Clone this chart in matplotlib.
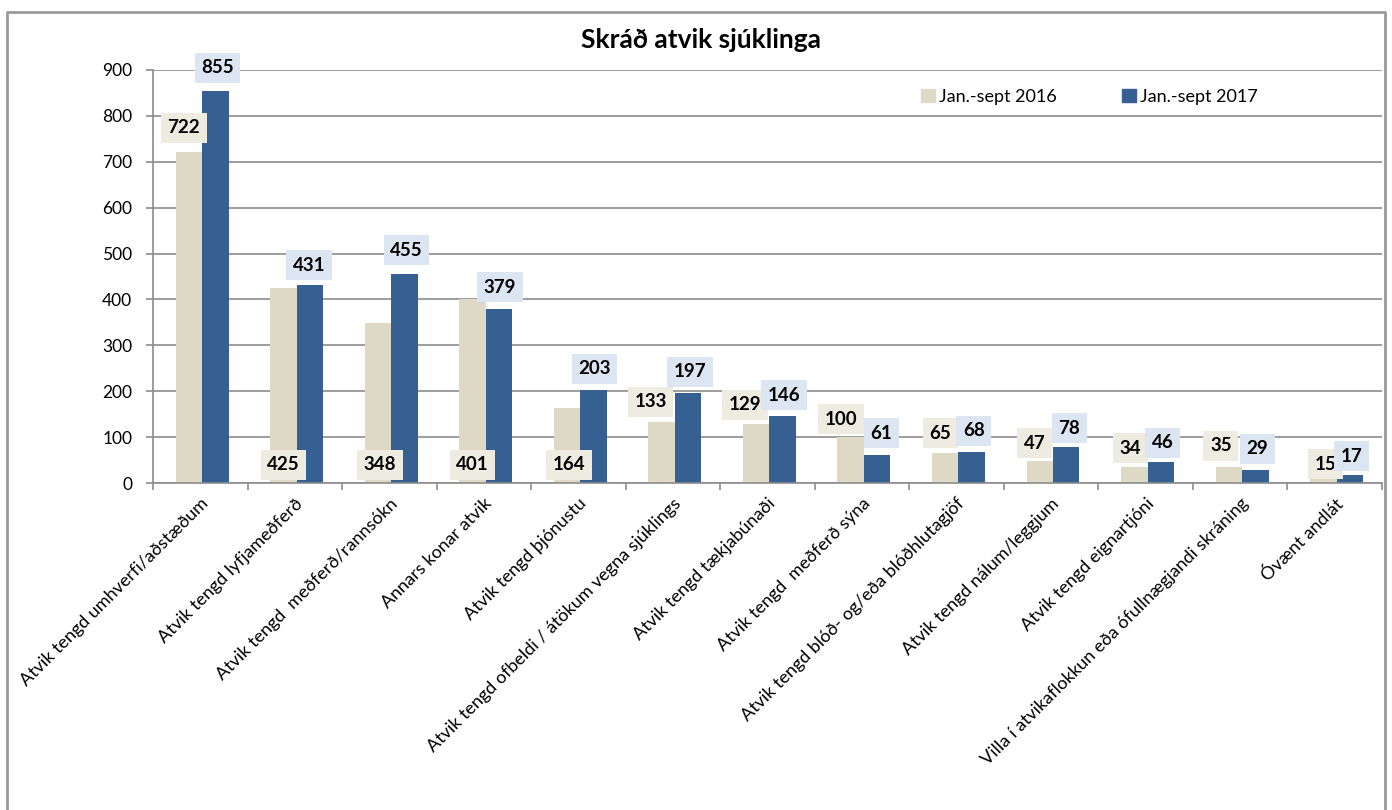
import matplotlib.pyplot as plt
from matplotlib.lines import Line2D
from matplotlib.patches import Patch
import numpy as np

plt.rcParams['font.family'] = ['Lato', 'DejaVu Sans']

categories = [
    'Atvik tengd umhverfi/aðstæðum',
    'Atvik tengd lyfjameðferð',
    'Atvik tengd  meðferð/rannsókn',
    'Annars konar atvik',
    'Atvik tengd þjónustu',
    'Atvik tengd ofbeldi / átökum vegna sjúklings',
    'Atvik tengd tækjabúnaði',
    'Atvik tengd  meðferð sýna',
    'Atvik tengd blóð- og/eða blóðhlutagjöf',
    'Atvik tengd nálum/leggjum',
    'Atvik tengd eignartjóni',
    'Villa í atvikaflokkun eða ófullnægjandi skráning',
    'Óvænt andlát',
]
values_2016 = [722, 425, 348, 401, 164, 133, 129, 100, 65, 47, 34, 35, 15]
values_2017 = [855, 431, 455, 379, 203, 197, 146, 61, 68, 78, 46, 29, 17]
series_names = ['Jan.-sept 2016', 'Jan.-sept 2017']
title = 'Skráð atvik sjúklinga'

c2016 = '#ddd9c4'
c2017 = '#376092'
box2016 = '#eeece1'
box2017 = '#dce6f2'

# label offsets in pixels: (anchor, dx, dy); 'top' = bar top, 'base' = axis
offs_2016 = [('top', -5, 24), ('base', 0, 18), ('base', 2, 18), ('base', 0, 18),
             ('base', 2, 18), ('top', -11, 20), ('top', -11, 19), ('top', -10, 18),
             ('top', -5, 20), ('top', -5, 18), ('top', -4, 19), ('top', -8, 21),
             ('top', 2, 12)]
offs_2017 = [('top', 2, 23), ('top', -1, 20), ('top', 2, 24), ('top', 1, 22),
             ('top', 1, 21), ('top', 2, 21), ('top', 1, 21), ('top', 4, 22),
             ('top', 2, 21), ('top', 3, 19), ('top', 2, 19), ('top', 2, 21),
             ('top', 2, 19)]

W, H = 1392, 810
fig = plt.figure(figsize=(W / 100, H / 100), dpi=100)
ax = fig.add_axes([153 / W, 1 - 483 / H, (1382 - 153) / W, (483 - 70) / H])

x = np.arange(len(categories))
bw = 0.28
shift = 0.02
ax.bar(x - bw / 2 + shift, values_2016, bw, color=c2016, zorder=2)
ax.bar(x + bw / 2 + shift, values_2017, bw, color=c2017, zorder=2)

ax.set_xlim(-0.5, len(categories) - 0.5)
ax.set_ylim(0, 900)
ax.set_yticks(range(0, 901, 100))
ax.yaxis.grid(True, color='#8c8c8c', linewidth=1.2, zorder=0)
ax.set_axisbelow(True)

for s in ['top', 'right']:
    ax.spines[s].set_visible(False)
for s in ['left', 'bottom']:
    ax.spines[s].set_color('#8c8c8c')
    ax.spines[s].set_linewidth(1.2)

ax.tick_params(axis='y', length=5, width=1.2, color='#8c8c8c', pad=10, labelsize=12.5)
ax.set_xticks(np.arange(-0.5, len(categories), 1), minor=True)
ax.set_xticks(x)
ax.tick_params(axis='x', which='minor', length=5, width=1.2, color='#8c8c8c')
ax.tick_params(axis='x', which='major', length=0, pad=9)
ax.set_xticklabels(categories, rotation=45, ha='right', va='top',
                   rotation_mode='anchor', fontsize=13)

def put_labels(vals, offs, xpos, bg):
    for xi, v, (anc, dx, dy) in zip(xpos, vals, offs):
        base = v if anc == 'top' else 0
        ax.annotate(str(v), (xi, base), xytext=(dx, dy), textcoords='offset pixels',
                    ha='center', va='center', fontsize=13.5, fontweight='bold',
                    bbox=dict(boxstyle='square,pad=0.35', fc=bg, ec='none'), zorder=4)

put_labels(values_2016, offs_2016, x - bw / 2 + shift, box2016)
put_labels(values_2017, offs_2017, x + bw / 2 + shift, box2017)

fig.text(701 / W, 1 - 40 / H, title, ha='center', va='center',
         fontsize=19, fontweight='bold')

handles = [Patch(color=c2016), Patch(color=c2017)]
fig.legend(handles, series_names, loc='center left',
           bbox_to_anchor=(905 / W, 1 - 97 / H), ncol=2, frameon=False,
           fontsize=13, handlelength=0.75, handleheight=0.75,
           handletextpad=0.25, columnspacing=3.6)

# chart border
bx = [6.5 / W, 6.5 / W, 1385 / W, 1385 / W]
by = [0, 1 - 11.5 / H, 1 - 11.5 / H, 0]
fig.add_artist(Line2D(bx, by, color='#9a9a9a', linewidth=2, transform=fig.transFigure))

fig.savefig('out.png', dpi=100)
